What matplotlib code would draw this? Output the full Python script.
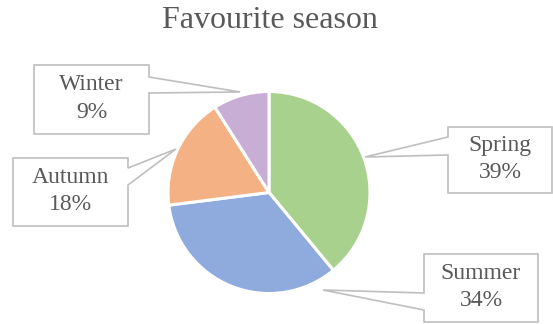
import matplotlib.pyplot as plt
from matplotlib.patches import Polygon

# data
seasons = ['Spring', 'Summer', 'Autumn', 'Winter']
shares = [39, 34, 18, 9]
colors = ['#a9d18e', '#8faadc', '#f4b183', '#c8aed4']

W, H = 553, 324

# callout boxes in pixel coords: (x0, y0, x1, y1), pointer side, pointer y range, tip
boxes = {
    'Spring': ((448, 127, 552, 193), 'left', (137, 155), (365, 157)),
    'Summer': ((424, 254, 538, 322), 'left', (293, 310), (323, 290)),
    'Autumn': ((13, 158, 128, 226), 'right', (168, 185), (176, 149)),
    'Winter': ((34, 65, 149, 134), 'right', (77, 93), (240, 92)),
}

plt.rcParams['font.family'] = ['Liberation Serif', 'DejaVu Serif']

fig = plt.figure(figsize=(W / 100, H / 100), dpi=100)
ax = fig.add_axes([0, 0, 1, 1])

# pie in pixel space (y flipped)
ax.pie(shares, colors=colors, startangle=90, counterclock=False,
       center=(269, H - 192.5), radius=101,
       wedgeprops=dict(edgecolor='white', linewidth=2.2))

for name, share in zip(seasons, shares):
    (x0, y0, x1, y1), side, (pa, pb), (tx, ty) = boxes[name]
    if side == 'left':
        pts = [(x0, y0), (x1, y0), (x1, y1), (x0, y1), (x0, pb), (tx, ty), (x0, pa)]
    else:
        pts = [(x0, y0), (x1, y0), (x1, pa), (tx, ty), (x1, pb), (x1, y1), (x0, y1)]
    pts = [(px, H - py) for px, py in pts]
    ax.add_patch(Polygon(pts, closed=True, facecolor='white',
                         edgecolor='#bfbfbf', linewidth=1.2, zorder=3))
    ax.text((x0 + x1) / 2, H - (y0 + y1) / 2 + 1, f'{name}\n{share}%',
            ha='center', va='center', fontsize=17, color='#595959',
            linespacing=1.4, zorder=4)

ax.text(270, H - 21, 'Favourite season', ha='center', va='center',
        fontsize=23, color='#595959')

ax.set_xlim(0, W)
ax.set_ylim(0, H)
ax.set_aspect('auto')
ax.axis('off')

plt.savefig('out.png', dpi=100)
